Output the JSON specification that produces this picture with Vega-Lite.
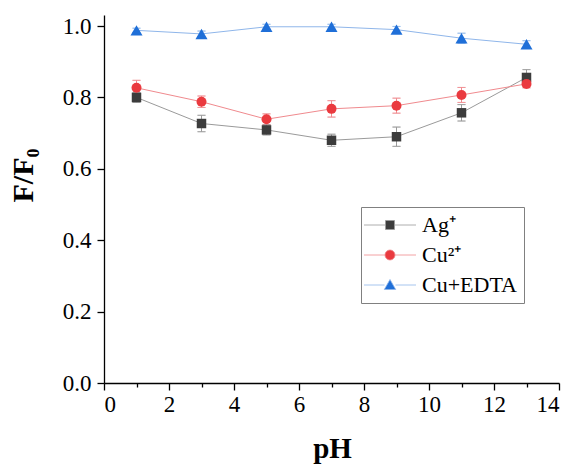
{
  "$schema": "https://vega.github.io/schema/vega-lite/v6.json",
  "autosize": "none",
  "width": 455,
  "height": 368,
  "padding": {"left": 104, "top": 15, "right": 18, "bottom": 88},
  "background": "white",
  "config": {
    "view": {"stroke": null},
    "font": "Liberation Serif",
    "axis": {"grid": false, "domainColor": "black", "domainWidth": 1.3, "tickColor": "black", "tickWidth": 1.3, "labelColor": "black", "titleColor": "black", "labelFont": "Liberation Serif", "titleFont": "Liberation Serif", "labelFontSize": 23, "labelOverlap": false},
    "legend": {"orient": "none", "legendX": 257, "legendY": 192, "padding": 7, "strokeColor": "#808080", "fillColor": "white", "labelFont": "Liberation Serif", "labelFontSize": 22, "labelColor": "black", "symbolSize": 400, "symbolStrokeWidth": 0.8, "symbolOpacity": 1, "labelOffset": 32, "rowPadding": 8}
  },
  "data": {"values": [
    {"series": "Ag⁺", "pH": 1, "value": 0.800, "lo": 0.786, "hi": 0.814},
    {"series": "Ag⁺", "pH": 3, "value": 0.727, "lo": 0.704, "hi": 0.750},
    {"series": "Ag⁺", "pH": 5, "value": 0.709, "lo": 0.695, "hi": 0.723},
    {"series": "Ag⁺", "pH": 7, "value": 0.680, "lo": 0.663, "hi": 0.697},
    {"series": "Ag⁺", "pH": 9, "value": 0.690, "lo": 0.663, "hi": 0.717},
    {"series": "Ag⁺", "pH": 11, "value": 0.757, "lo": 0.734, "hi": 0.780},
    {"series": "Ag⁺", "pH": 13, "value": 0.856, "lo": 0.834, "hi": 0.878},
    {"series": "Cu²⁺", "pH": 1, "value": 0.827, "lo": 0.806, "hi": 0.848},
    {"series": "Cu²⁺", "pH": 3, "value": 0.788, "lo": 0.772, "hi": 0.804},
    {"series": "Cu²⁺", "pH": 5, "value": 0.739, "lo": 0.724, "hi": 0.754},
    {"series": "Cu²⁺", "pH": 7, "value": 0.768, "lo": 0.745, "hi": 0.791},
    {"series": "Cu²⁺", "pH": 9, "value": 0.777, "lo": 0.756, "hi": 0.798},
    {"series": "Cu²⁺", "pH": 11, "value": 0.807, "lo": 0.786, "hi": 0.828},
    {"series": "Cu²⁺", "pH": 13, "value": 0.838, "lo": 0.827, "hi": 0.849},
    {"series": "Cu+EDTA", "pH": 1, "value": 0.988, "lo": 0.982, "hi": 0.994},
    {"series": "Cu+EDTA", "pH": 3, "value": 0.978, "lo": 0.970, "hi": 0.986},
    {"series": "Cu+EDTA", "pH": 5, "value": 0.998, "lo": 0.991, "hi": 1.005},
    {"series": "Cu+EDTA", "pH": 7, "value": 0.998, "lo": 0.991, "hi": 1.005},
    {"series": "Cu+EDTA", "pH": 9, "value": 0.990, "lo": 0.981, "hi": 0.999},
    {"series": "Cu+EDTA", "pH": 11, "value": 0.966, "lo": 0.952, "hi": 0.980},
    {"series": "Cu+EDTA", "pH": 13, "value": 0.949, "lo": 0.939, "hi": 0.959}
  ]},
  "encoding": {
    "x": {"field": "pH", "type": "quantitative",
      "scale": {"domain": [0, 14], "nice": false, "zero": false},
      "axis": {"values": [0,1,2,3,4,5,6,7,8,9,10,11,12,13,14],
        "labelExpr": "datum.value % 2 == 0 ? datum.label : ''",
        "tickSize": {"condition": {"test": "datum.value % 2 == 0", "value": 7}, "value": 4},
        "labelPadding": 3,
        "title": "pH", "titleFontSize": 29, "titleFontWeight": "bold",
        "titleBaseline": "alphabetic", "titleY": 74, "titleX": 228, "titleAnchor": "middle"}}
  },
  "layer": [
    {
      "mark": {"type": "line", "strokeWidth": 1},
      "encoding": {
        "y": {"field": "value", "type": "quantitative",
          "scale": {"domain": [0, 1.031], "nice": false},
          "axis": {"values": [0,0.1,0.2,0.3,0.4,0.5,0.6,0.7,0.8,0.9,1.0],
            "labelExpr": "round(datum.value*10) % 2 == 0 ? format(datum.value, '.1f') : ''",
            "tickSize": {"condition": {"test": "round(datum.value*10) % 2 == 0", "value": 7}, "value": 4},
            "labelPadding": 6,
            "title": "F/F₀", "titleFontSize": 30, "titleFontWeight": "bold",
            "titleAngle": -90, "titleAlign": "center", "titleBaseline": "alphabetic",
            "titleX": -72, "titleY": 160}},
        "stroke": {"field": "series", "type": "nominal",
          "scale": {"domain": ["Ag⁺", "Cu²⁺", "Cu+EDTA"], "range": ["#9a9a9a", "#f08a8e", "#8fb6ea"]},
          "legend": {"title": null}},
        "order": {"field": "pH"}
      }
    },
    {
      "mark": {"type": "rule", "strokeWidth": 1},
      "encoding": {
        "y": {"field": "lo", "type": "quantitative"},
        "y2": {"field": "hi"},
        "stroke": {"field": "series", "type": "nominal"}
      }
    },
    {
      "mark": {"type": "tick", "orient": "horizontal", "size": 8, "thickness": 0, "filled": false, "strokeWidth": 1},
      "encoding": {
        "y": {"field": "lo", "type": "quantitative"},
        "stroke": {"field": "series", "type": "nominal"}
      }
    },
    {
      "mark": {"type": "tick", "orient": "horizontal", "size": 8, "thickness": 0, "filled": false, "strokeWidth": 1},
      "encoding": {
        "y": {"field": "hi", "type": "quantitative"},
        "stroke": {"field": "series", "type": "nominal"}
      }
    },
    {
      "transform": [{"filter": "datum.series === 'Ag⁺'"}],
      "mark": {"type": "point", "shape": "square", "size": 90, "filled": true, "opacity": 1, "strokeWidth": 0},
      "encoding": {
        "y": {"field": "value", "type": "quantitative"},
        "fill": {"field": "series", "type": "nominal",
          "scale": {"domain": ["Ag⁺", "Cu²⁺", "Cu+EDTA"], "range": ["#3c3c3c", "#ea3a3f", "#1f6fd8"]},
          "legend": {"title": null}}
      }
    },
    {
      "transform": [{"filter": "datum.series === 'Cu²⁺'"}],
      "mark": {"type": "point", "shape": "circle", "size": 100, "filled": true, "opacity": 1, "strokeWidth": 0},
      "encoding": {
        "y": {"field": "value", "type": "quantitative"},
        "fill": {"field": "series", "type": "nominal", "legend": {"title": null}}
      }
    },
    {
      "transform": [{"filter": "datum.series === 'Cu+EDTA'"}],
      "mark": {"type": "point", "shape": "triangle-up", "size": 145, "filled": true, "opacity": 1, "strokeWidth": 0},
      "encoding": {
        "y": {"field": "value", "type": "quantitative"},
        "fill": {"field": "series", "type": "nominal", "legend": {"title": null}}
      }
    },
    {
      "transform": [{"filter": "datum.pH < 0"}],
      "mark": {"type": "point", "filled": true, "opacity": 1},
      "encoding": {
        "y": {"field": "value", "type": "quantitative"},
        "fill": {"field": "series", "type": "nominal", "legend": {"title": null}},
        "shape": {"field": "series", "type": "nominal",
          "scale": {"domain": ["Ag⁺", "Cu²⁺", "Cu+EDTA"],
            "range": ["M-1.5,0H0.65M1.55,0H3.7M0.65,-0.45H1.55V0.45H0.65Z",
                      "M-1.5,0H0.6M1.6,0H3.7M1.1,-0.5A0.5,0.5 0 1 1 1.1,0.5A0.5,0.5 0 1 1 1.1,-0.5Z",
                      "M-1.5,0H0.55M1.65,0H3.7M1.1,-0.55L1.67,0.45L0.53,0.45Z"]},
          "legend": {"title": null}}
      }
    }
  ]
}
